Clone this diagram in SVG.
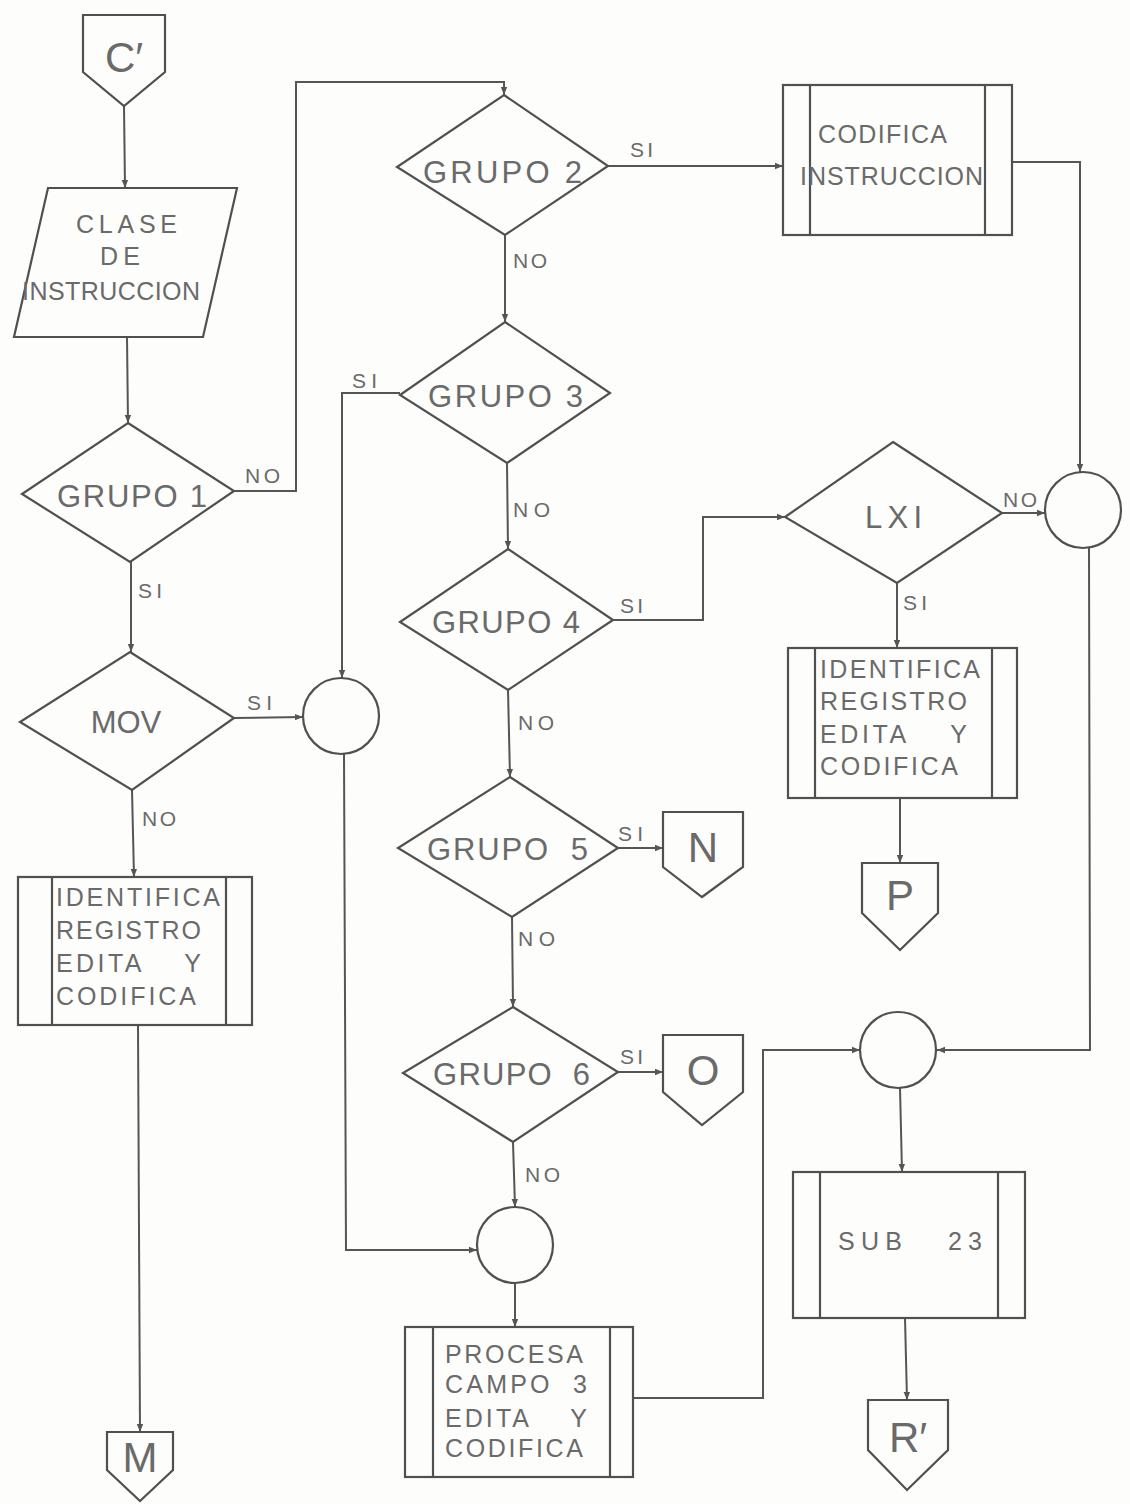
<svg xmlns="http://www.w3.org/2000/svg" width="1130" height="1504" viewBox="0 0 1130 1504">
<defs>
<style>
.s{fill:none;stroke:#505050;stroke-width:2.2;stroke-linejoin:miter}
.c{fill:none;stroke:#555;stroke-width:2}
.t{font-family:"Liberation Sans",Arial,sans-serif;fill:#6a6a6a}
.lg{font-size:31px}
.md{font-size:25px}
.sm{font-size:21px}
.cn{font-size:42px}
</style>
<marker id="ah" viewBox="0 0 10 10" refX="10" refY="5" markerWidth="11" markerHeight="8" markerUnits="userSpaceOnUse" orient="auto">
<path d="M0,1 L10,5 L0,9 z" fill="#555"/>
</marker>
</defs>
<rect x="0" y="0" width="1130" height="1504" fill="#fdfdfb"/>

<g id="connectors" class="c" marker-end="url(#ah)">
<polyline points="124,106 125,188"/>
<polyline points="127,337 128,423"/>
<polyline points="234,491 296,491 296,82 504,82 504,95"/>
<polyline points="131,562 131,652"/>
<polyline points="234,718 303,717"/>
<polyline points="132,790 134,877"/>
<polyline points="138,1025 140,1432"/>
<polyline points="608,166 783,166"/>
<polyline points="505,235 505,322"/>
<polyline points="1012,162 1080,162 1080,472"/>
<polyline points="400,393 342,393 342,678"/>
<polyline points="507,463 508,549"/>
<polyline points="613,620 703,620 703,517 785,517"/>
<polyline points="508,690 510,777"/>
<polyline points="618,848 663,848"/>
<polyline points="512,917 513,1007"/>
<polyline points="618,1072 663,1072"/>
<polyline points="513,1142 515,1207"/>
<polyline points="344,754 346,1250 477,1250"/>
<polyline points="515,1283 515,1327"/>
<polyline points="633,1398 763,1398 763,1050 860,1050"/>
<polyline points="1002,513 1045,513"/>
<polyline points="897,583 897,648"/>
<polyline points="900,798 900,863"/>
<polyline points="1089,548 1090,1050 937,1050"/>
<polyline points="900,1088 902,1172"/>
<polyline points="905,1318 907,1400"/>
</g>

<g id="labels" class="t sm">
<text x="245" y="483" textLength="35">NO</text>
<text x="138" y="598" textLength="24">SI</text>
<text x="247" y="710" textLength="25">SI</text>
<text x="142" y="826" textLength="34">NO</text>
<text x="630" y="157" textLength="23">SI</text>
<text x="513" y="268" textLength="34">NO</text>
<text x="352" y="388" textLength="25">SI</text>
<text x="513" y="517" textLength="37">NO</text>
<text x="620" y="613" textLength="23">SI</text>
<text x="518" y="730" textLength="36">NO</text>
<text x="618" y="841" textLength="25">SI</text>
<text x="518" y="946" textLength="37">NO</text>
<text x="620" y="1064" textLength="23">SI</text>
<text x="525" y="1182" textLength="35">NO</text>
<text x="1003" y="507" textLength="34">NO</text>
<text x="903" y="610" textLength="24">SI</text>
</g>

<g id="c_prime">
<polygon class="s" points="83,15 165,15 165,72 124,106 83,72"/>
<text class="t cn" x="124" y="72" text-anchor="middle">C′</text>
</g>

<g id="clase">
<polygon class="s" points="48,188 237,188 203,337 14,337"/>
<text class="t md" x="76" y="233" textLength="101">CLASE</text>
<text class="t md" x="100" y="265" textLength="40">DE</text>
<text class="t md" x="22" y="300" textLength="178">INSTRUCCION</text>
</g>

<g id="grupo1">
<polygon class="s" points="128,423 234,491 130,562 22,494"/>
<text class="t lg" x="57" y="507" textLength="150">GRUPO 1</text>
</g>

<g id="mov">
<polygon class="s" points="130,652 234,718 132,790 20,722"/>
<text class="t lg" x="126" y="733" text-anchor="middle">MOV</text>
</g>

<g id="identifica_left">
<rect class="s" x="18" y="877" width="234" height="148"/>
<line class="s" x1="52" y1="877" x2="52" y2="1025"/>
<line class="s" x1="226" y1="877" x2="226" y2="1025"/>
<text class="t md" x="56" y="906" textLength="164">IDENTIFICA</text>
<text class="t md" x="56" y="939" textLength="145">REGISTRO</text>
<text class="t md" x="56" y="972" textLength="145" xml:space="preserve">EDITA    Y</text>
<text class="t md" x="56" y="1005" textLength="140">CODIFICA</text>
</g>

<g id="m">
<polygon class="s" points="107,1432 173,1432 173,1470 140,1501 107,1470"/>
<text class="t cn" x="140" y="1472" text-anchor="middle">M</text>
</g>

<g id="circle_mid">
<circle class="s" cx="341" cy="716" r="38"/>
</g>

<g id="grupo2">
<polygon class="s" points="504,95 608,166 505,235 397,167"/>
<text class="t lg" x="423" y="183" textLength="159">GRUPO 2</text>
</g>

<g id="codifica">
<rect class="s" x="783" y="85" width="229" height="150"/>
<line class="s" x1="810" y1="85" x2="810" y2="235"/>
<line class="s" x1="985" y1="85" x2="985" y2="235"/>
<text class="t md" x="818" y="143" textLength="129">CODIFICA</text>
<text class="t md" x="800" y="185" textLength="183">INSTRUCCION</text>
</g>

<g id="grupo3">
<polygon class="s" points="505,322 610,393 507,463 400,395"/>
<text class="t lg" x="428" y="407" textLength="155">GRUPO 3</text>
</g>

<g id="grupo4">
<polygon class="s" points="508,549 613,620 508,690 400,622"/>
<text class="t lg" x="432" y="633" textLength="148">GRUPO 4</text>
</g>

<g id="grupo5">
<polygon class="s" points="510,777 618,848 512,917 398,848"/>
<text class="t lg" x="427" y="860" textLength="161" xml:space="preserve">GRUPO  5</text>
</g>

<g id="n">
<polygon class="s" points="663,812 743,812 743,867 702,897 663,867"/>
<text class="t cn" x="703" y="862" text-anchor="middle">N</text>
</g>

<g id="grupo6">
<polygon class="s" points="513,1007 618,1072 513,1142 403,1073"/>
<text class="t lg" x="433" y="1085" textLength="157" xml:space="preserve">GRUPO  6</text>
</g>

<g id="o">
<polygon class="s" points="663,1035 743,1035 743,1092 702,1125 663,1092"/>
<text class="t cn" x="703" y="1085" text-anchor="middle">O</text>
</g>

<g id="circle_bottom_mid">
<circle class="s" cx="515" cy="1245" r="38"/>
</g>

<g id="procesa">
<rect class="s" x="405" y="1327" width="228" height="150"/>
<line class="s" x1="433" y1="1327" x2="433" y2="1477"/>
<line class="s" x1="610" y1="1327" x2="610" y2="1477"/>
<text class="t md" x="445" y="1363" textLength="138">PROCESA</text>
<text class="t md" x="445" y="1393" textLength="142" xml:space="preserve">CAMPO  3</text>
<text class="t md" x="445" y="1427" textLength="142" xml:space="preserve">EDITA    Y</text>
<text class="t md" x="445" y="1457" textLength="138">CODIFICA</text>
</g>

<g id="lxi">
<polygon class="s" points="893,442 1002,513 897,583 785,517"/>
<text class="t lg" x="865" y="528" textLength="57">LXI</text>
</g>

<g id="circle_right">
<circle class="s" cx="1083" cy="510" r="38"/>
</g>

<g id="identifica_right">
<rect class="s" x="788" y="648" width="229" height="150"/>
<line class="s" x1="815" y1="648" x2="815" y2="798"/>
<line class="s" x1="992" y1="648" x2="992" y2="798"/>
<text class="t md" x="820" y="678" textLength="160">IDENTIFICA</text>
<text class="t md" x="820" y="710" textLength="147">REGISTRO</text>
<text class="t md" x="820" y="743" textLength="147" xml:space="preserve">EDITA    Y</text>
<text class="t md" x="820" y="775" textLength="138">CODIFICA</text>
</g>

<g id="p">
<polygon class="s" points="862,863 938,863 938,913 900,950 862,913"/>
<text class="t cn" x="900" y="910" text-anchor="middle">P</text>
</g>

<g id="circle_bottom_right">
<circle class="s" cx="898" cy="1050" r="38"/>
</g>

<g id="sub23">
<rect class="s" x="793" y="1172" width="232" height="146"/>
<line class="s" x1="820" y1="1172" x2="820" y2="1318"/>
<line class="s" x1="998" y1="1172" x2="998" y2="1318"/>
<text class="t md" x="838" y="1250" textLength="144" xml:space="preserve">SUB   23</text>
</g>

<g id="r_prime">
<polygon class="s" points="868,1400 948,1400 948,1450 907,1490 868,1450"/>
<text class="t cn" x="908" y="1452" text-anchor="middle">R′</text>
</g>
</svg>
